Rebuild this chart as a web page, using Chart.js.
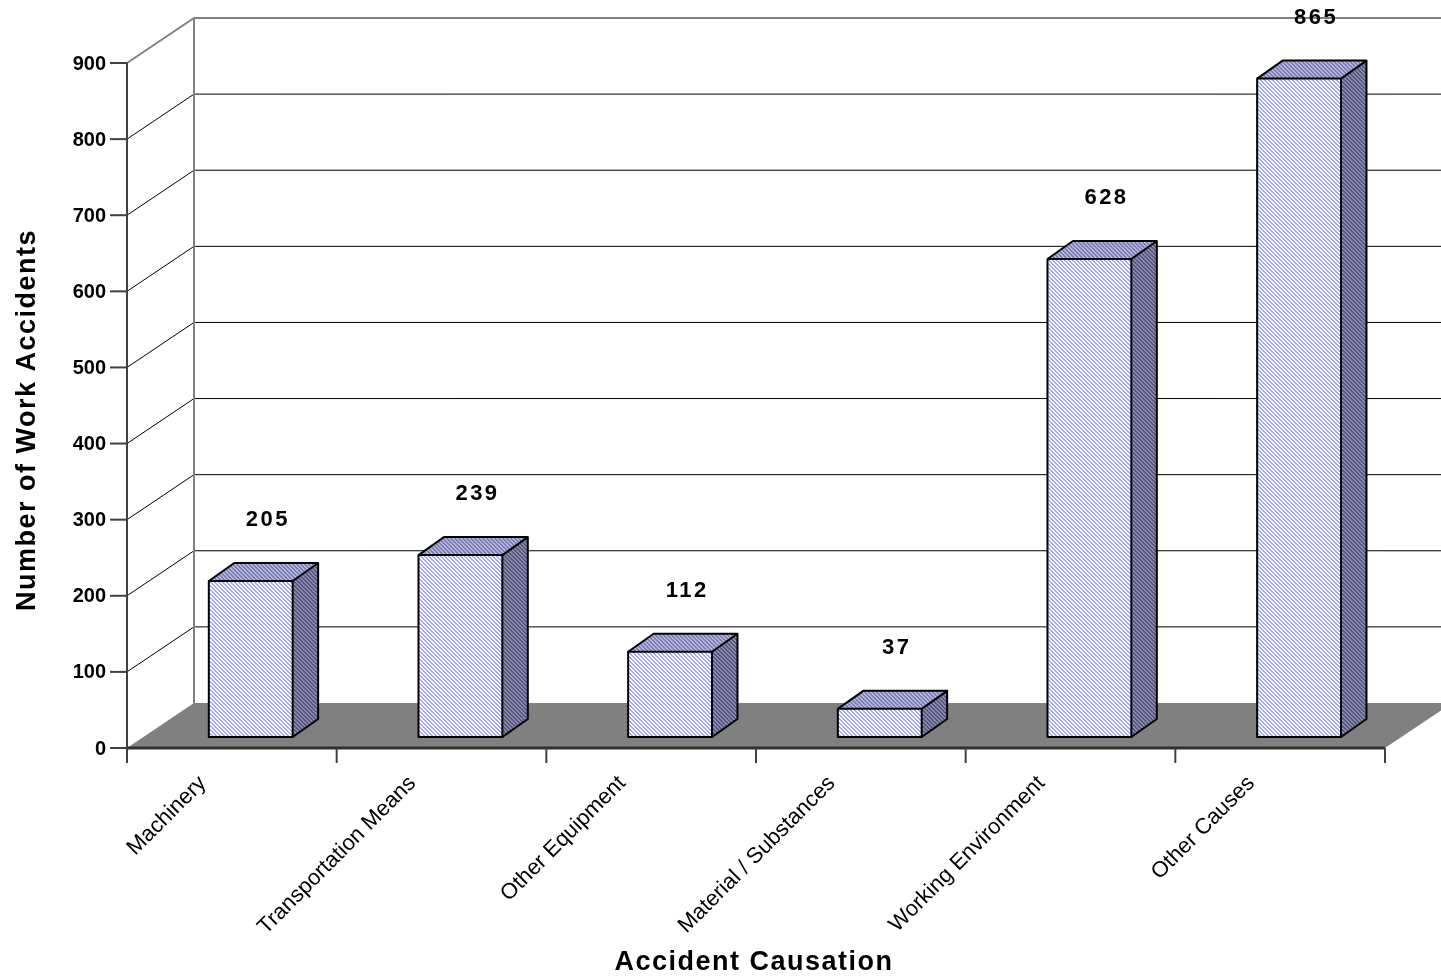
<!DOCTYPE html>
<html>
<head>
<meta charset="utf-8">
<script src="https://cdn.jsdelivr.net/npm/chart.js@4.4.1/dist/chart.umd.min.js"></script>
<style>
  body { margin: 0; background: #fff; }
  #wrap { width: 1441px; height: 980px; }
</style>
</head>
<body>
<div id="wrap"><canvas id="accidentes" width="1441" height="980"></canvas></div>
<script>
var categorias = ['Machinery', 'Transportation Means', 'Other Equipment', 'Material / Substances', 'Working Environment', 'Other Causes'];
var accidentes = [205, 239, 112, 37, 628, 865];
var ticks_y = [0, 100, 200, 300, 400, 500, 600, 700, 800, 900];
var titulo_x = 'Accident Causation';
var titulo_y = 'Number of Work Accidents';

// depth of the fake 3d box
var prof = { dx: 67, dy: -45 };
var FONT = '"Liberation Sans", Arial, sans-serif';

var ctx = document.getElementById('accidentes').getContext('2d');

function rayado(fondo, linea) {
    var c = document.createElement('canvas');
    c.width = 4; c.height = 4;
    var g = c.getContext('2d');
    g.fillStyle = fondo;
    g.fillRect(0, 0, 4, 4);
    g.fillStyle = linea;
    for (var i = 0; i < 4; i++) {
        g.fillRect(i, i, 1, 1);
        g.fillRect((i + 1) % 4, i, 1, 1);
    }
    return ctx.createPattern(c, 'repeat');
}
var pat_frente = rayado('#ffffff', '#a4a4ff');
var pat_arriba = rayado('#b4b4e0', '#7c7cae');
var pat_lado = rayado('#8a8aae', '#56567c');

function linea(c, x1, y1, x2, y2, color, ancho) {
    c.beginPath();
    c.moveTo(x1, y1);
    c.lineTo(x2, y2);
    c.strokeStyle = color;
    c.lineWidth = ancho;
    c.stroke();
}

var paredes = {
    id: 'paredes',
    beforeDatasetsDraw(chart) {
        var c = chart.ctx;
        var a = chart.chartArea;
        var y = chart.scales.y;
        var x = chart.scales.x;
        c.save();
        // floor
        var y0 = y.getPixelForValue(0);
        c.beginPath();
        c.moveTo(a.left, y0);
        c.lineTo(a.right, y0);
        c.lineTo(a.right + prof.dx, y0 + prof.dy);
        c.lineTo(a.left + prof.dx, y0 + prof.dy);
        c.closePath();
        c.fillStyle = '#808080';
        c.fill();
        // grid on side wall and back wall
        ticks_y.forEach(function (t) {
            if (t === 0) return;
            var py = y.getPixelForValue(t);
            var col = t === ticks_y[ticks_y.length - 1] ? '#808080' : '#000000';
            var w = t === ticks_y[ticks_y.length - 1] ? 2 : 1;
            linea(c, a.left, py, a.left + prof.dx, py + prof.dy, col, w);
            linea(c, a.left + prof.dx, py + prof.dy, chart.width + 20, py + prof.dy, col, w);
        });
        linea(c, a.left + prof.dx, y.getPixelForValue(900) + prof.dy, a.left + prof.dx, y0 + prof.dy, '#808080', 2);
        // front axes
        linea(c, a.left, a.top, a.left, y0 + 15, '#404040', 2);
        linea(c, a.left, y0, a.right, y0, '#303030', 3);
        ticks_y.forEach(function (t) {
            var py = y.getPixelForValue(t);
            linea(c, a.left - 17, py, a.left, py, '#404040', 2);
        });
        for (var i = 0; i <= categorias.length; i++) {
            var px = a.left + i * (a.right - a.left) / categorias.length;
            linea(c, px, y0, px, y0 + 15, '#404040', 2);
        }
        // tick labels
        c.fillStyle = '#000';
        c.font = 'bold 20px ' + FONT;
        c.textAlign = 'right';
        c.textBaseline = 'middle';
        ticks_y.forEach(function (t) {
            c.fillText(String(t), a.left - 21, y.getPixelForValue(t) + 1);
        });
        c.font = '22px ' + FONT;
        categorias.forEach(function (cat, i) {
            var px = x.getPixelForValue(i);
            c.save();
            c.translate(px - 29, y0 + 32);
            c.rotate(-Math.PI / 4);
            c.textAlign = 'right';
            c.textBaseline = 'middle';
            c.fillText(cat, 0, 0);
            c.restore();
        });
        // axis titles
        c.font = 'bold 27px ' + FONT;
        c.letterSpacing = '1.5px';
        c.textAlign = 'center';
        c.fillText(titulo_x, 754, 963);
        c.save();
        c.translate(28, 420);
        c.rotate(-Math.PI / 2);
        c.fillText(titulo_y, 0, 0);
        c.restore();
        c.restore();
    },
    afterDatasetsDraw(chart) {
        var c = chart.ctx;
        var meta = chart.getDatasetMeta(0);
        var f1 = 0.245, f2 = 0.4;
        var ox = prof.dx * f1 + 2.5, oy = prof.dy * f1;
        var bx = prof.dx * f2 * 0.95, by = prof.dy * f2;
        c.save();
        meta.data.forEach(function (el, i) {
            var l = el.x - el.width / 2 + ox;
            var r = el.x + el.width / 2 + ox;
            var t = el.y + oy;
            var b = el.base + oy;
            // front
            c.fillStyle = pat_frente;
            c.fillRect(l, t, r - l, b - t);
            // top
            c.beginPath();
            c.moveTo(l, t); c.lineTo(r, t); c.lineTo(r + bx, t + by); c.lineTo(l + bx, t + by); c.closePath();
            c.fillStyle = pat_arriba;
            c.fill();
            // side
            c.beginPath();
            c.moveTo(r, t); c.lineTo(r + bx, t + by); c.lineTo(r + bx, b + by); c.lineTo(r, b); c.closePath();
            c.fillStyle = pat_lado;
            c.fill();
            // outline
            c.strokeStyle = '#000';
            c.lineWidth = 2;
            c.lineJoin = 'round';
            c.strokeRect(l, t, r - l, b - t);
            c.beginPath();
            c.moveTo(l, t); c.lineTo(l + bx, t + by); c.lineTo(r + bx, t + by); c.lineTo(r + bx, b + by); c.lineTo(r, b);
            c.moveTo(r, t); c.lineTo(r + bx, t + by);
            c.stroke();
            // value label
            c.fillStyle = '#000';
            c.font = 'bold 22px ' + FONT;
            c.letterSpacing = '2.5px';
            c.textAlign = 'center';
            c.textBaseline = 'middle';
            c.fillText(String(accidentes[i]), el.x + 36, el.y - 72);
        });
        c.restore();
    }
};

var chart_accidentes = new Chart(ctx, {
    type: 'bar',
    data: {
        labels: categorias,
        datasets: [{
            data: accidentes,
            label: 'Accidents',
            backgroundColor: 'rgba(0,0,0,0)',
            borderWidth: 0,
            barPercentage: 0.4,
            categoryPercentage: 1.0
        }]
    },
    options: {
        responsive: false,
        animation: false,
        layout: { padding: { left: 127, right: 56, top: 63, bottom: 232 } },
        plugins: { legend: { display: false }, tooltip: { enabled: false } },
        scales: {
            x: { display: false },
            y: { display: false, min: 0, max: 900 }
        }
    },
    plugins: [paredes]
});
</script>
</body>
</html>
